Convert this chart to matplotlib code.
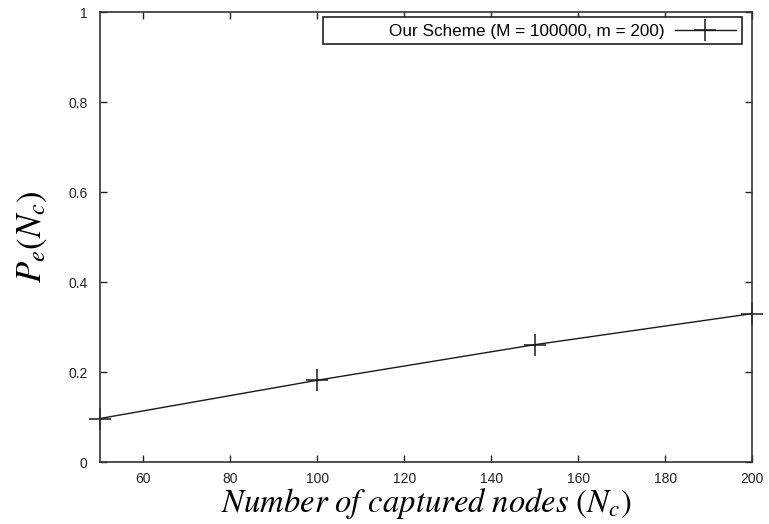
import matplotlib
matplotlib.use("Agg")
import matplotlib.pyplot as plt
from matplotlib.patches import Rectangle

plt.rcParams['mathtext.fontset'] = 'stix'
plt.rcParams['font.family'] = ['Liberation Sans', 'DejaVu Sans']

captured_nodes = [50, 100, 150, 200]
pe_values = [0.097, 0.182, 0.261, 0.330]
series_label = "Our Scheme (M = 100000, m = 200)"

fig = plt.figure(figsize=(7.69, 5.24), dpi=100)
ax = fig.add_axes([0.130, 0.118, 0.848, 0.859])

ax.plot(captured_nodes, pe_values, color='#1a1a1a', linewidth=1.0,
        marker='+', markersize=16, markeredgewidth=1.1, label=series_label,
        clip_on=False)

ax.set_xlim(50, 200)
ax.set_ylim(0, 1)
ax.set_xticks([60, 80, 100, 120, 140, 160, 180, 200])
ax.set_yticks([0, 0.2, 0.4, 0.6, 0.8, 1])
ax.set_yticklabels(['0', '0.2', '0.4', '0.6', '0.8', '1'])
ax.tick_params(direction='in', top=True, right=True, length=5, width=1.0,
               labelsize=10, colors='#222222')
ax.tick_params(axis='x', pad=7)
ax.tick_params(axis='y', pad=9)
for s in ax.spines.values():
    s.set_linewidth(1.2)
    s.set_color('#333333')

ax.set_xlabel(r'$\mathit{Number\ of\ captured\ nodes\ (N_c)}$', fontsize=23.5, labelpad=0)
ax.set_ylabel(r'$P_e(N_c)$', fontsize=25, labelpad=14)

# gnuplot-style key: wide box, text right-justified next to the sample
key_box = Rectangle((0.342, 0.929), 0.643, 0.06, transform=ax.transAxes,
                    facecolor='white', edgecolor='#222222', linewidth=1.2, zorder=4)
ax.add_patch(key_box)
leg = ax.legend(loc='upper right', fontsize=12.3, frameon=False,
                markerfirst=False, handlelength=3.6, borderpad=0.25,
                handletextpad=0.6, borderaxespad=0,
                bbox_to_anchor=(0.982, 0.982))
leg.set_zorder(5)

fig.savefig('out.png', dpi=100)
